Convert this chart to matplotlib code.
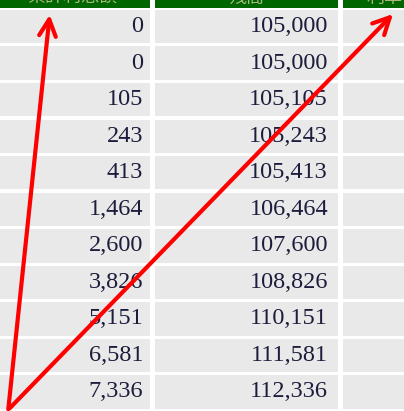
import matplotlib.pyplot as plt
from matplotlib.patches import Rectangle

# table data
interest = [0, 0, 105, 243, 413, 1464, 2600, 3826, 5151, 6581, 7336]
principal = 105000
balance = [principal + v for v in interest]
headers = ['累計利息額', '残高', '利率']

plt.rcParams['font.family'] = ['Noto Sans CJK JP', 'DejaVu Sans']

W, H = 404, 411
fig = plt.figure(figsize=(W / 100, H / 100), dpi=100)
ax = fig.add_axes([0, 0, 1, 1])
ax.set_xlim(0, W)
ax.set_ylim(H, 0)
ax.axis('off')

# column edges (left, right) in pixels
cols = [(-5, 150), (155, 338), (343, 410)]
head_bot = 8
row0 = 10
pitch = 36.5
gap = 3

green = '#006600'
cellbg = '#e9e9e9'
txtcol = '#1c1c3c'

for i, (l, r) in enumerate(cols):
    ax.add_patch(Rectangle((l, -5), r - l, head_bot + 5, color=green, lw=0))
    # header labels are cut off by the top edge, only the bottom shows
    ax.text((l + r) / 2 + (8 if i == 2 else 0), 6.5, headers[i], color='#a8b880',
            fontsize=13, ha='center', va='bottom', clip_on=True)

for j in range(len(interest)):
    top = row0 + j * pitch
    for (l, r) in cols:
        ax.add_patch(Rectangle((l, top), r - l, pitch - gap, color=cellbg, lw=0))
    yc = top + (pitch - gap) / 2
    ax.text(143, yc, f'{interest[j]:,}', ha='right', va='center', fontsize=17.5,
            family='Liberation Serif', color=txtcol)
    ax.text(328, yc, f'{balance[j]:,}', ha='right', va='center', fontsize=17.5,
            family='Liberation Serif', color=txtcol)

# red arrows
arrow = dict(arrowstyle='->', color='#ff0000', lw=3, mutation_scale=30)
ax.annotate('', xy=(50, 12), xytext=(8, 412), arrowprops=arrow)
ax.annotate('', xy=(395, 12), xytext=(8, 410), arrowprops=arrow)

fig.savefig('out.png', dpi=100, facecolor='white')
